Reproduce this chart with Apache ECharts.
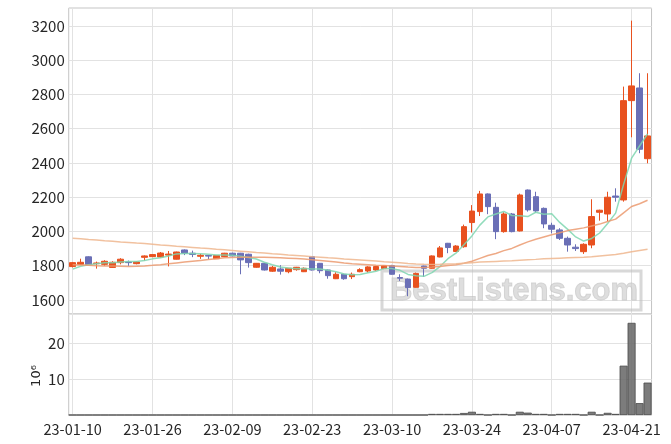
<!DOCTYPE html>
<html><head><meta charset="utf-8">
<script src="https://cdn.jsdelivr.net/npm/echarts/dist/echarts.min.js"></script>
<style>html,body{margin:0;padding:0;background:#fff}#c{width:671px;height:444px}</style>
</head><body><div id="c"></div>
<script>
const dates = ["23-01-10","23-01-11","23-01-12","23-01-13","23-01-16","23-01-17","23-01-18","23-01-19","23-01-20","23-01-25",
"23-01-26","23-01-27","23-01-30","23-01-31","23-02-01","23-02-02","23-02-03","23-02-06","23-02-07","23-02-08",
"23-02-09","23-02-10","23-02-13","23-02-14","23-02-15","23-02-16","23-02-17","23-02-20","23-02-21","23-02-22",
"23-02-23","23-02-24","23-02-27","23-02-28","23-03-02","23-03-03","23-03-06","23-03-07","23-03-08","23-03-09",
"23-03-10","23-03-13","23-03-14","23-03-15","23-03-16","23-03-17","23-03-20","23-03-21","23-03-22","23-03-23",
"23-03-24","23-03-27","23-03-28","23-03-29","23-03-30","23-03-31","23-04-03","23-04-04","23-04-05","23-04-06",
"23-04-07","23-04-10","23-04-11","23-04-12","23-04-13","23-04-14","23-04-17","23-04-18","23-04-19","23-04-20",
"23-04-21","23-04-24","23-04-25"];
const opens = [1795,1808,1852,1812,1808,1790,1818,1822,1812,1849,
1853,1851,1862,1838,1892,1873,1855,1860,1841,1853,
1873,1873,1867,1791,1814,1768,1781,1765,1777,1765,
1853,1814,1775,1724,1750,1736,1765,1769,1775,1783,
1800,1731,1722,1674,1798,1785,1851,1931,1883,1911,
2052,2116,2219,2141,1999,2102,2003,2242,2203,2135,
2036,2009,1960,1908,1882,1921,2112,2102,2207,2184,
2764,2838,2425];
const closes = [1818,1820,1806,1816,1826,1820,1838,1818,1822,1857,
1865,1874,1868,1880,1873,1866,1861,1856,1860,1873,
1857,1834,1818,1814,1775,1791,1768,1785,1791,1785,
1775,1771,1742,1750,1724,1750,1777,1793,1795,1800,
1750,1727,1672,1755,1785,1857,1904,1906,1915,2028,
2119,2219,2145,1999,2102,1999,2213,2126,2120,2044,
2013,1960,1921,1900,1925,2087,2124,2200,2200,2764,
2850,2480,2558];
const lows = [1790,1805,1803,1783,1800,1788,1808,1799,1808,1830,
1850,1848,1796,1836,1862,1850,1840,1838,1840,1852,
1855,1750,1789,1788,1772,1764,1748,1756,1771,1763,
1772,1756,1724,1722,1718,1722,1762,1760,1771,1780,
1748,1711,1622,1672,1734,1783,1849,1873,1880,1905,
1994,2090,2101,1955,1993,1995,2000,2116,2110,2019,
1989,1950,1882,1886,1869,1902,2063,2060,2174,2174,
2550,2457,2398];
const highs = [1822,1841,1855,1824,1832,1826,1844,1830,1826,1860,
1868,1880,1886,1882,1895,1888,1869,1862,1862,1875,
1876,1875,1870,1816,1816,1799,1803,1787,1793,1790,
1856,1816,1778,1762,1752,1760,1785,1797,1797,1804,
1805,1750,1725,1760,1800,1860,1915,1933,1920,2040,
2154,2237,2222,2168,2112,2108,2221,2245,2232,2140,
2051,2019,1970,1925,1931,2188,2127,2232,2252,2846,
3231,2924,2924];
const ma5 = [1780,1797,1806,1812,1817,1818,1821,1824,1825,1831,
1840,1847,1857,1869,1872,1872,1870,1867,1863,1863,
1861,1856,1848,1839,1820,1806,1793,1787,1782,1784,
1781,1781,1773,1765,1752,1747,1749,1759,1768,1783,
1783,1773,1749,1741,1738,1760,1795,1841,1873,1922,
1974,2037,2085,2102,2117,2093,2092,2087,2112,2100,
2103,2053,2012,1968,1944,1959,1991,2047,2107,2275,
2428,2499,2570];
const ma20 = [1806,1804,1802,1800,1799,1798,1797,1796,1797,1799,
1802,1806,1811,1816,1821,1826,1831,1836,1841,1846,
1848,1849,1850,1850,1849,1848,1846,1844,1842,1839,
1835,1831,1826,1821,1816,1812,1809,1806,1803,1801,
1798,1795,1792,1790,1790,1792,1796,1801,1806,1814,
1826,1843,1860,1871,1888,1901,1921,1939,1955,1968,
1981,1993,2005,2013,2021,2032,2043,2058,2072,2109,
2146,2162,2182];
const ma60 = [1960,1957,1953,1950,1946,1943,1939,1936,1932,1929,
1925,1921,1918,1914,1911,1907,1903,1900,1896,1893,
1889,1885,1881,1877,1874,1870,1867,1863,1860,1857,
1853,1850,1846,1843,1839,1836,1833,1830,1827,1823,
1820,1817,1813,1810,1808,1807,1808,1810,1812,1815,
1818,1821,1823,1825,1827,1829,1832,1835,1837,1840,
1842,1844,1846,1848,1850,1853,1857,1861,1865,1873,
1882,1889,1896];
const volumes = [0,0,0,0,0,0,0,0,0,0,
0,0,0,0,0,0,0,0,0,0,
0,0,0,0,0,0,0,0,0,0,
0,0,0,0,0,0,0,0,0,0,
0,0,0,0,0,0.3,0.3,0.3,0.3,0.55,
0.9,0.3,0,0.3,0.3,0,0.9,0.65,0.3,0.3,
0,0.3,0.3,0.3,0,0.9,0,0.6,0.3,13.7,
25.6,3.3,9.0];
const priceTicks = [1600,1800,2000,2200,2400,2600,2800,3000,3200];
const volumeTicks = [10,20];
const dateTickIndices = [0,10,20,30,40,50,60,70];
const volumeExponentLabel = "10⁶";
const watermarkText = "BestListens.com";

const candles = opens.map((o,i)=>[o, closes[i], lows[i], highs[i]]);

const UP = '#e8511f', DOWN = '#6a6fb6';
const STEP = 7.984, X0 = 72.7;
const LEFT = X0 - STEP/2, WIDTH = STEP*dates.length;
const FONT = 'Noto Sans CJK KR';
const TXT = '#262626';
const GRIDC = '#e2e2e2';

function vLines(){
  return {silent:true, z: 0, symbol:['none','none'], label:{show:false},
    lineStyle:{color:GRIDC, width:1, type:'solid'},
    emphasis:{disabled:true},
    data: dateTickIndices.map(i=>({xAxis:i}))};
}

const chart = echarts.init(document.getElementById('c'), null, {renderer:'canvas'});
chart.setOption({
  animation: false,
  backgroundColor: '#fff',
  grid: [
    {left: LEFT, width: WIDTH, top: 8, height: 306, show: true, borderColor: '#c4c4c4', borderWidth: 1, backgroundColor: 'transparent'},
    {left: LEFT, width: WIDTH, top: 314, height: 101, show: true, borderColor: '#c4c4c4', borderWidth: 1, backgroundColor: 'transparent'}
  ],
  xAxis: [
    {type:'category', gridIndex:0, data: dates, boundaryGap: true,
     axisLine:{show:false}, axisTick:{show:false}, axisLabel:{show:false}, splitLine:{show:false}},
    {type:'category', gridIndex:1, data: dates, boundaryGap: true,
     axisLine:{show:false}, axisTick:{show:false}, splitLine:{show:false},
     axisLabel:{interval: 9, fontFamily: FONT, fontSize: 14.5, color: TXT, margin: 7}}
  ],
  yAxis: [
    {type:'value', gridIndex:0, min:1518, max:3305, splitNumber: 9, minInterval:200, maxInterval:200,
     axisLine:{show:false}, axisTick:{show:false},
     axisLabel:{fontFamily: FONT, fontSize: 15, color: TXT, margin: 4,
       showMinLabel:false, showMaxLabel:false,
       formatter: v => priceTicks.indexOf(Math.round(v)) >= 0 && Math.abs(v-Math.round(v))<1e-6 ? String(Math.round(v)) : ''},
     splitLine:{show:true, lineStyle:{color: GRIDC, width:1}}},
    {type:'value', gridIndex:1, min:0, max:28.06, splitNumber:3, minInterval:10, maxInterval:10,
     axisLine:{show:false}, axisTick:{show:false},
     axisLabel:{fontFamily: FONT, fontSize: 15, color: TXT, margin: 4,
       showMinLabel:false, showMaxLabel:false,
       formatter: v => volumeTicks.indexOf(v) >= 0 ? String(v) : ''},
     splitLine:{show:true, lineStyle:{color: GRIDC, width:1}}}
  ],
  series: [
    {type:'line', xAxisIndex:0, yAxisIndex:0, data: [], z: 0, markLine: vLines()},
    {type:'line', xAxisIndex:1, yAxisIndex:1, data: [], z: 0, markLine: vLines()},
    {type:'candlestick', xAxisIndex:0, yAxisIndex:0, data: candles, barWidth: 6, z: 3,
     itemStyle:{color: UP, color0: DOWN, borderColor: UP, borderColor0: DOWN, borderWidth: 1}},
    {type:'line', xAxisIndex:0, yAxisIndex:0, data: ma5, symbol:'none', z: 4,
     lineStyle:{color:'#7fd6b0', width:1.5, opacity:0.85}},
    {type:'line', xAxisIndex:0, yAxisIndex:0, data: ma20, symbol:'none', z: 4,
     lineStyle:{color:'#eb9a70', width:1.5, opacity:0.85}},
    {type:'line', xAxisIndex:0, yAxisIndex:0, data: ma60, symbol:'none', z: 4,
     lineStyle:{color:'#efb68e', width:1.5, opacity:0.85}},
    {type:'bar', xAxisIndex:1, yAxisIndex:1, data: volumes, barWidth: '100%', barCategoryGap: '0%', z: 3,
     itemStyle:{color:'rgba(110,110,110,0.9)', borderColor:'#4a4a4a', borderWidth:0.8}}
  ],
  graphic: [
    {type:'rect', z: 1, silent:true, shape:{x:382, y:271, width:259, height:39},
     style:{fill:'none', stroke:'rgba(190,190,190,0.6)', lineWidth:3}},
    {type:'text', z: 1, silent:true, x: 514, y: 291,
     style:{text: watermarkText, fontFamily:'Liberation Sans', fontWeight:'bold', fontSize:31,
       fill:'rgba(205,205,205,0.65)', stroke:'rgba(175,175,175,0.5)', lineWidth:1,
       textAlign:'center', textVerticalAlign:'middle'}},
    {type:'text', silent:true, x: 37, y: 376, rotation: Math.PI/2,
     style:{text: volumeExponentLabel, fontFamily:'DejaVu Sans', fontSize:13, fill: TXT,
       textAlign:'center', textVerticalAlign:'middle'}}
  ]
});
</script>
</body></html>
